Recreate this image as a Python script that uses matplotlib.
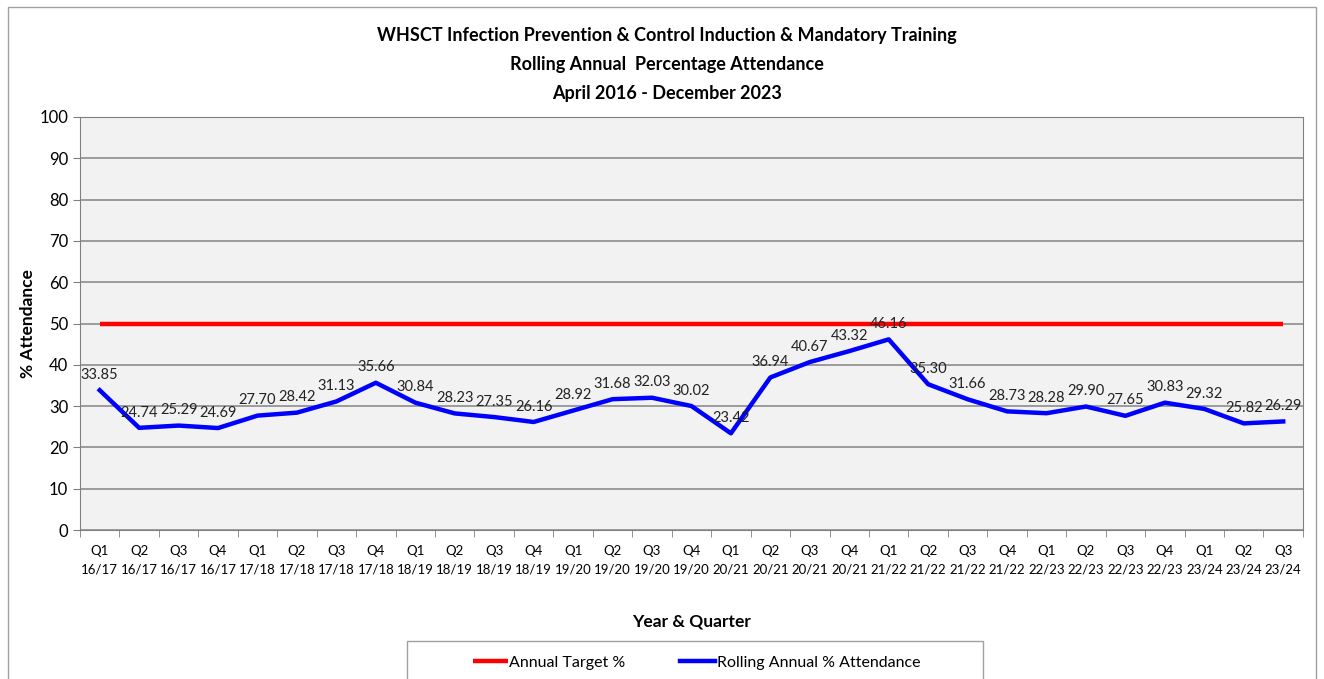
import matplotlib
matplotlib.use("Agg")
import matplotlib.pyplot as plt
from matplotlib.patches import Rectangle

plt.rcParams["font.family"] = ["Lato", "DejaVu Sans"]

quarters = ["Q1", "Q2", "Q3", "Q4"]
years = ["16/17", "17/18", "18/19", "19/20", "20/21", "21/22", "22/23", "23/24"]
labels = [f"{q}\n{y}" for y in years for q in quarters][:31]

attendance = [33.85, 24.74, 25.29, 24.69, 27.70, 28.42, 31.13, 35.66,
              30.84, 28.23, 27.35, 26.16, 28.92, 31.68, 32.03, 30.02,
              23.42, 36.94, 40.67, 43.32, 46.16, 35.30, 31.66, 28.73,
              28.28, 29.90, 27.65, 30.83, 29.32, 25.82, 26.29]
target = [50] * len(attendance)

fig = plt.figure(figsize=(13.24, 6.79), dpi=100)
fig.patch.set_facecolor("white")
# outer chart border
fig.patches.append(Rectangle((0.006, -0.01), 0.988, 1.0, transform=fig.transFigure,
                             fill=False, edgecolor="#a0a0a0", lw=1))
# legend box (runs off the bottom edge like the original)
fig.patches.append(Rectangle((407 / 1324, -0.02), 576 / 1324, 0.076, transform=fig.transFigure,
                             fill=False, edgecolor="#a0a0a0", lw=1))

ax = fig.add_axes([0.0604, 0.2194, 0.9237, 0.6083])
ax.set_facecolor("#f2f2f2")
x = list(range(len(attendance)))

ax.plot(x, target, color="#ff0000", lw=3.2, label="Annual Target %", solid_capstyle="butt")
ax.plot(x, attendance, color="#0000ff", lw=3.2, label="Rolling Annual % Attendance")

for xi, v in zip(x, attendance):
    ax.annotate(f"{v:.2f}", (xi, v), xytext=(0, 6), textcoords="offset points",
                ha="center", va="bottom", fontsize=10.5, color="#222222")

ax.set_xlim(-0.5, len(attendance) - 0.5)
ax.set_ylim(0, 100)
ax.set_yticks(range(0, 101, 10))
ax.yaxis.grid(True, color="#8c8c8c", lw=1.2)
ax.set_axisbelow(True)
ax.set_xticks(x)
ax.set_xticklabels(labels, fontsize=9.5, linespacing=1.65)
ax.set_xticks([i - 0.5 for i in range(len(attendance) + 1)], minor=True)
ax.tick_params(axis="x", which="major", length=0, pad=11)
ax.tick_params(axis="x", which="minor", length=5, color="#808080")
ax.tick_params(axis="y", labelsize=12, length=5, color="#808080")
for s in ax.spines.values():
    s.set_color("#808080")

ax.set_ylabel("% Attendance", fontsize=12.5, fontweight="bold")
ax.set_xlabel("Year & Quarter", fontsize=12.5, fontweight="bold", labelpad=27)
ax.yaxis.set_label_coords(-0.036, 0.5)

fig.text(0.504, 0.96, "WHSCT Infection Prevention & Control Induction & Mandatory Training\n"
         "Rolling Annual  Percentage Attendance\nApril 2016 - December 2023",
         ha="center", va="top", fontsize=13, fontweight="bold", linespacing=1.85)

leg = fig.legend(loc="center", bbox_to_anchor=(0.526, 0.024), ncol=2, fontsize=11.5,
                 frameon=False, handlelength=2.2, handletextpad=0.1, columnspacing=3.4)

fig.savefig("out.png", dpi=100)
